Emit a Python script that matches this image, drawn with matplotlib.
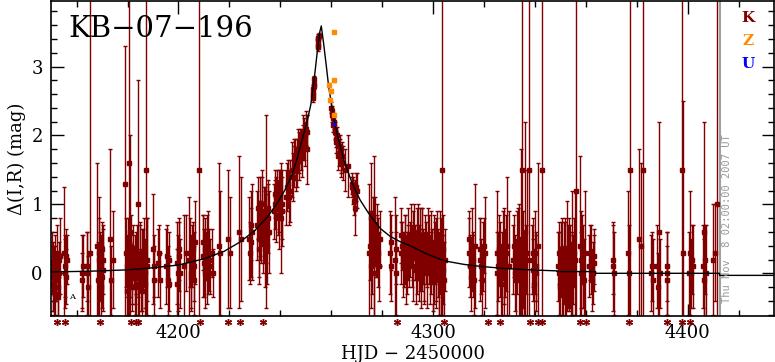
import matplotlib
matplotlib.use('Agg')
import matplotlib.pyplot as plt
import matplotlib.transforms as mtransforms
from matplotlib.ticker import MultipleLocator

# K (dark red) photometry, one line per night: HJD-2450000, delta mag, error
k_hjd = [4150.5, 4150.9, 4151.3, 4151.7, 4152.1, 4152.6, 4153.0, 4153.4,
         4155.0, 4155.6, 4156.0, 4156.4,
         4162.0, 4162.3, 4163.9, 4164.4, 4165.3,
         4168.2, 4168.7, 4169.2, 4169.6, 4170.0, 4170.4,
         4173.3, 4174.2,
         4179.1, 4179.6, 4180.0, 4180.4, 4180.8, 4181.0, 4181.4, 4181.9, 4182.5, 4183.0,
         4183.5, 4184.0, 4184.3, 4184.8, 4185.3, 4185.8, 4186.4, 4186.9, 4187.2, 4187.5,
         4190.0, 4190.4, 4192.0, 4192.6, 4195.3, 4195.9, 4196.4, 4199.3, 4199.8, 4200.4,
         4202.2, 4202.8, 4204.2, 4204.8, 4205.4, 4206.0, 4206.6, 4208.2,
         4209.6, 4210.1, 4210.6, 4211.1, 4211.6, 4212.5, 4213.5, 4216.0, 4216.4,
         4219.3, 4220.3, 4223.8, 4224.6, 4227.7, 4228.3, 4229.0,
         4231.0, 4231.5, 4232.0, 4232.5, 4233.0, 4233.5, 4234.0, 4234.5, 4235.1, 4235.6,
         4237.5, 4238.0, 4238.5, 4239.0, 4239.5, 4240.2, 4240.8, 4242.3, 4243.2, 4243.8,
         4244.5, 4245.2, 4245.8, 4246.5, 4247.2, 4247.8,
         4248.3, 4248.8, 4249.3, 4249.8, 4250.3, 4250.6,
         4252.8, 4252.9, 4253.0, 4253.1, 4253.2, 4254.7, 4254.8, 4254.9, 4255.0, 4255.1,
         4260.0, 4260.3, 4260.6, 4261.0, 4261.5, 4262.0, 4262.5, 4263.0, 4263.5, 4264.0, 4264.5,
         4265.6, 4266.4, 4268.0, 4268.5, 4269.0, 4269.2, 4269.5, 4270.0,
         4275.0, 4275.5, 4276.0, 4276.8, 4277.3, 4277.9, 4278.4, 4279.0,
         4283.0, 4283.6, 4285.0, 4285.5, 4287.3, 4287.9, 4288.5, 4289.1, 4289.7, 4290.3,
         4291.0, 4291.7, 4292.3, 4293.0, 4293.5, 4294.0, 4294.5, 4295.0, 4295.5, 4296.0,
         4296.6, 4297.2, 4297.8, 4298.4, 4299.0, 4299.6, 4300.2, 4300.8, 4301.3, 4301.9,
         4302.5, 4303.1, 4303.6, 4304.1, 4304.7,
         4314.0, 4314.6, 4315.2, 4315.8, 4316.3, 4318.3, 4319.0, 4319.6, 4320.5,
         4325.0, 4325.7, 4326.3, 4327.0, 4327.7, 4328.4, 4329.2, 4330.0,
         4331.5, 4332.2, 4333.0, 4333.8, 4334.6, 4335.4, 4336.2, 4337.0,
         4338.8, 4339.4, 4340.0, 4340.6, 4341.2, 4342.9,
         4349.0, 4349.6, 4350.2, 4350.8, 4351.4, 4352.0, 4352.6, 4353.2, 4353.8, 4354.4, 4355.0, 4355.6, 4356.3,
         4357.7, 4358.3, 4359.0, 4359.6, 4361.3, 4362.0, 4362.8, 4363.4,
         4370.8, 4371.2, 4376.6, 4377.2, 4380.9, 4381.7, 4382.6, 4385.6, 4386.3,
         4388.0, 4388.6, 4389.3, 4391.8, 4392.0, 4397.9, 4398.2, 4400.9,
         4401.4, 4402.0, 4406.0, 4406.6, 4407.3, 4410.0, 4410.6, 4411.7]
k_mag = [0.05, -0.15, 0.10, -0.30, 0.00, -0.20, 0.20, 0.25,
         0.30, 0.10, -0.05, 0.20,
         0.00, -0.10, 0.00, -0.20, 0.30,
         0.40, 0.20, 0.10, 0.15, -0.05, 0.05,
         0.50, 0.20,
         1.30, 0.10, -0.10, 1.60, 0.05, 0.60, 0.20, -0.05, 0.10, -0.20,
         0.15, 0.00, 1.00, 0.25, -0.10, 0.05, 0.30, -0.15, 1.50, 0.10,
         0.35, 0.10, 0.15, -0.10, 0.10, -0.10, 0.20, 0.15, 0.00, 0.25,
         0.10, 0.30, 0.20, 0.00, 0.25, 0.10, 0.45, 1.50,
         0.25, 0.15, 0.35, 0.10, 0.30, 0.10, 0.00, 0.40, 0.30,
         0.50, 0.30, 0.60, 0.50, 0.50, 0.45, 0.60,
         0.70, 0.50, 0.80, 0.60, 0.90, 0.70, 0.50, 0.90, 0.80, 0.60,
         0.90, 1.00, 1.10, 0.95, 1.05, 0.80, 1.00, 1.10, 1.30, 1.20,
         1.50, 1.55, 1.70, 1.60, 1.75, 1.85,
         1.80, 1.90, 1.95, 2.00, 2.05, 1.80,
         2.55, 2.62, 2.68, 2.75, 2.82, 3.28, 3.33, 3.38, 3.42, 3.45,
         2.40, 2.30, 2.25, 2.20, 2.05, 1.95, 1.85, 1.75, 1.80, 1.65, 1.60,
         1.50, 1.55, 1.25, 1.20, 1.15, 0.95, 1.10, 1.20,
         0.30, 0.80, 0.30, 0.50, 0.60, 0.40, 0.30, 0.50,
         0.30, 0.10, 0.20, 0.00, 0.30, 0.40, 0.20, 0.35, 0.15, 0.30,
         0.35, 0.25, 0.40, 0.30, 0.20, 0.45, 0.30, 0.20, 0.35, 0.25,
         0.10, 0.30, 0.20, 0.35, 0.15, 0.25, 0.10, 0.30, 0.20, 0.15,
         0.00, 0.10, 1.50, 0.05, 0.20,
         0.30, 0.10, 0.35, 0.20, 0.40, 0.20, 0.10, 0.25, 0.30,
         0.30, 0.10, 0.20, 0.00, 0.25, 0.15, 0.40, 0.10,
         0.20, 0.00, 0.30, 0.10, 0.50, 0.20, 0.60, 0.30,
         0.20, 0.05, 0.30, 0.10, 0.40, 1.50,
         0.10, 0.00, 0.20, -0.10, 0.15, 0.05, 0.25, 0.00, 0.10, 0.30, 0.05, 0.20, 1.20,
         0.40, 0.20, 0.10, 0.30, 0.10, 0.20, 0.00, 0.15,
         0.10, 0.00, 0.30, 1.50, 0.50, 0.40, 1.50, 0.00, -0.10,
         0.10, 0.60, 0.00, 0.00, -0.10, 1.50, 0.30, 0.30,
         0.00, 0.10, 0.10, 0.60, 0.00, 0.20, 0.30, 1.00]
k_err = [0.35, 0.40, 0.30, 0.35, 0.30, 0.45, 0.25, 0.55,
         0.95, 0.45, 0.40, 0.35,
         0.55, 0.40, 0.60, 0.45, 4.00,
         1.20, 0.90, 0.50, 0.40, 0.45, 0.60,
         1.30, 0.70,
         2.00, 0.45, 0.50, 2.60, 0.40, 1.40, 0.35, 0.40, 0.30, 0.40,
         0.45, 0.35, 1.80, 0.50, 0.45, 0.60, 0.50, 0.55, 3.00, 0.70,
         0.80, 0.45, 0.50, 0.40, 0.55, 0.50, 0.40, 0.60, 0.55, 0.50,
         0.75, 0.55, 0.90, 0.55, 0.45, 0.50, 0.60, 3.50,
         0.60, 0.50, 0.45, 0.55, 0.60, 0.40, 0.35, 1.20, 0.90,
         1.00, 0.80, 1.10, 0.90, 0.60, 0.50, 0.70,
         0.50, 0.55, 0.60, 0.45, 0.50, 0.55, 0.70, 1.40, 0.50, 0.60,
         0.40, 0.35, 0.30, 0.40, 0.45, 0.80, 0.50, 0.40, 0.35, 0.45,
         0.40, 0.30, 0.25, 0.35, 0.30, 0.25,
         0.30, 0.25, 0.30, 0.20, 0.25, 0.50,
         0.06, 0.05, 0.05, 0.05, 0.05, 0.05, 0.05, 0.05, 0.05, 0.04,
         0.08, 0.10, 0.08, 0.10, 0.10, 0.12, 0.15, 0.20, 0.15, 0.20, 0.25,
         0.30, 0.45, 0.15, 0.20, 0.15, 0.40, 0.20, 0.25,
         1.00, 0.80, 0.60, 1.20, 0.50, 0.45, 0.50, 0.40,
         0.60, 0.50, 0.90, 0.60, 0.45, 0.35, 0.40, 0.50, 0.45, 0.40,
         0.40, 0.45, 0.50, 0.40, 0.50, 0.55, 0.40, 0.45, 0.60, 0.40,
         0.50, 0.45, 0.40, 0.50, 0.45, 0.40, 0.55, 0.45, 0.60, 0.50,
         0.60, 0.70, 3.00, 0.50, 0.45,
         0.50, 0.45, 0.60, 0.40, 0.90, 0.60, 0.40, 0.50, 0.80,
         0.90, 0.50, 0.55, 0.60, 0.70, 0.50, 1.00, 0.80,
         0.50, 0.55, 0.60, 0.90, 1.30, 0.70, 1.60, 1.20,
         0.50, 0.45, 0.60, 0.50, 1.20, 3.00,
         0.50, 0.60, 0.55, 0.50, 0.60, 0.70, 0.80, 0.55, 0.60, 0.90, 0.50, 1.00, 3.00,
         1.30, 0.70, 0.60, 0.90, 0.45, 0.50, 0.45, 0.40,
         0.65, 0.60, 0.90, 3.00, 1.30, 1.20, 3.00, 0.55, 0.60,
         0.60, 1.60, 0.50, 0.60, 0.50, 3.20, 2.20, 0.90,
         0.50, 0.60, 0.60, 1.60, 0.70, 0.80, 0.70, 4.00]

# more K points filling the dense nights
kx_hjd = [4150.3, 4150.7, 4151.1, 4151.5, 4151.9, 4152.3, 4152.8, 4153.2, 4155.3, 4155.8,
          4162.5, 4164.1, 4168.5, 4168.9, 4169.4, 4169.8, 4170.2, 4173.7,
          4179.4, 4179.8, 4180.2, 4180.6, 4181.2, 4181.7, 4182.2, 4182.8,
          4183.3, 4183.8, 4184.6, 4185.0, 4185.6, 4186.1, 4186.7, 4187.8,
          4190.2, 4192.3, 4195.6, 4196.1, 4199.5, 4200.1, 4200.6,
          4204.5, 4205.1, 4205.7, 4206.3, 4209.8, 4210.3, 4210.9, 4211.4, 4212.0, 4213.0,
          4228.0, 4228.6, 4231.2, 4231.8, 4232.2, 4232.8, 4233.2, 4233.8, 4234.2, 4234.8, 4235.3,
          4237.8, 4238.3, 4238.8, 4239.3, 4239.8, 4240.5, 4242.6, 4243.5, 4244.8, 4245.5,
          4246.2, 4246.9, 4247.5,
          4248.5, 4249.0, 4249.6, 4250.0, 4252.85, 4253.05, 4254.75, 4254.95, 4260.2, 4260.8,
          4261.3, 4261.8, 4262.3, 4262.8, 4263.3, 4263.8, 4264.3, 4268.3, 4268.8, 4269.8,
          4275.3, 4275.8, 4276.4, 4277.0, 4277.6, 4278.1, 4278.7, 4283.3, 4285.3, 4287.6,
          4288.2, 4288.8, 4289.4, 4290.0, 4290.6,
          4291.3, 4292.0, 4292.6, 4293.3, 4293.8, 4294.3, 4294.8, 4295.3, 4295.8, 4296.3,
          4296.9, 4297.5, 4298.1, 4298.7, 4299.3, 4299.9, 4300.5, 4301.0, 4301.6, 4302.2,
          4302.8, 4303.4, 4303.9, 4304.4,
          4314.3, 4314.9, 4315.5, 4316.0, 4318.6, 4319.3, 4320.0, 4325.3, 4326.0, 4326.7,
          4327.3, 4328.0, 4328.8, 4331.8, 4332.6, 4333.4, 4334.2, 4335.0, 4335.8, 4336.6,
          4337.6, 4339.1, 4339.7, 4340.3,
          4349.3, 4349.9, 4350.5, 4351.1, 4351.7, 4352.3, 4352.9, 4353.5, 4354.1, 4354.7,
          4355.3, 4358.0, 4358.6, 4359.3, 4361.6, 4362.4, 4363.1,
          4370.6, 4376.9, 4386.0, 4388.3, 4391.9, 4400.7, 4401.7, 4406.3, 4407.0]
kx_mag = [0.15, -0.05, -0.25, 0.20, -0.10, 0.30, -0.35, 0.00, 0.00, 0.25,
          0.10, 0.10, -0.10, 0.30, -0.20, 0.35, 0.20, -0.10,
          0.30, -0.25, 0.35, -0.15, 0.40, -0.20, 0.30, 0.05,
          -0.15, 0.30, -0.20, 0.30, -0.25, 0.20, 0.00, 0.20,
          -0.10, 0.30, 0.25, -0.15, -0.15, 0.35, 0.00,
          0.30, -0.05, 0.35, -0.10, 0.45, 0.00, 0.25, 0.45, 0.20, 0.30,
          0.30, 0.70, 0.95, 0.35, 0.65, 1.00, 0.45, 0.85, 0.65, 0.40, 0.95,
          1.15, 0.85, 1.20, 0.80, 1.15, 0.90, 1.25, 1.10, 1.40, 1.65,
          1.50, 1.80, 1.65,
          1.70, 2.05, 1.85, 2.10, 2.58, 2.72, 3.30, 3.40, 2.35, 2.15,
          2.10, 1.90, 2.00, 1.70, 1.85, 1.60, 1.70, 1.30, 1.05, 1.25,
          0.40, 0.10, 0.60, 0.00, 0.35, 0.55, 0.10, 0.45, 0.35, 0.55,
          0.10, 0.45, 0.05, 0.50, 0.20,
          0.55, 0.10, 0.60, 0.05, 0.50, 0.10, 0.55, 0.00, 0.50, 0.05,
          0.45, 0.00, 0.50, 0.05, 0.45, -0.05, 0.40, 0.00, 0.40, -0.10,
          0.30, -0.15, 0.35, -0.10,
          0.50, -0.05, 0.10, -0.10, 0.35, -0.10, 0.40, 0.00, 0.35, -0.15,
          0.40, -0.05, 0.30, 0.40, -0.10, 0.45, -0.10, 1.50, 0.00, 0.20,
          1.50, 0.30, -0.15, 0.00,
          0.30, -0.20, 0.35, -0.15, 0.30, -0.15, 0.10, 0.30, -0.10, 0.00,
          0.30, 0.00, 0.35, -0.10, 0.30, -0.10, 0.25,
          0.20, 0.00, 0.10, -0.20, 0.10, 0.00, 0.20, -0.10, 0.20]
kx_err = [0.45, 0.50, 0.40, 0.35, 0.30, 0.40, 0.35, 0.30, 0.50, 0.40,
          0.45, 0.50, 0.55, 0.50, 0.45, 0.40, 0.50, 0.50,
          0.50, 0.40, 0.45, 0.50, 0.45, 0.35, 0.40, 0.50,
          0.45, 0.40, 0.45, 0.40, 0.50, 0.45, 0.50, 0.60,
          0.50, 0.40, 0.45, 0.40, 0.50, 0.45, 0.50,
          0.50, 0.45, 0.40, 0.50, 0.40, 0.50, 0.35, 0.40, 0.45, 0.35,
          0.45, 0.50, 0.45, 0.50, 0.40, 0.50, 0.45, 0.40, 0.50, 0.55, 0.40,
          0.35, 0.40, 0.30, 0.45, 0.35, 0.50, 0.35, 0.40, 0.35, 0.30,
          0.30, 0.30, 0.30,
          0.30, 0.25, 0.30, 0.25, 0.05, 0.05, 0.05, 0.04, 0.08, 0.10,
          0.10, 0.15, 0.12, 0.20, 0.15, 0.20, 0.20, 0.15, 0.20, 0.20,
          0.50, 0.60, 0.50, 0.70, 0.40, 0.45, 0.50, 0.40, 0.50, 0.40,
          0.45, 0.40, 0.50, 0.45, 0.40,
          0.45, 0.50, 0.40, 0.50, 0.45, 0.50, 0.40, 0.50, 0.45, 0.50,
          0.40, 0.50, 0.45, 0.50, 0.45, 0.50, 0.45, 0.50, 0.50, 0.55,
          0.60, 0.60, 0.50, 0.55,
          0.40, 0.50, 0.45, 0.50, 0.45, 0.50, 0.40, 0.60, 0.50, 0.55,
          0.50, 0.60, 0.55, 0.45, 0.60, 0.50, 0.60, 3.00, 0.60, 0.50,
          3.00, 0.50, 0.50, 0.55,
          0.45, 0.50, 0.45, 0.50, 0.50, 0.55, 0.60, 0.50, 0.55, 0.60,
          0.50, 0.60, 0.50, 0.60, 0.40, 0.45, 0.40,
          0.50, 0.70, 0.50, 0.50, 0.50, 0.60, 0.50, 0.60, 0.50]

# Z (orange) and U (blue) points near the peak
z_hjd = [4260.9, 4260.9, 4259.0, 4260.0, 4259.7, 4260.9]
z_mag = [3.50, 2.80, 2.73, 2.65, 2.52, 2.30]
z_err = [0.02, 0.02, 0.03, 0.03, 0.03, 0.02]
u_hjd = [4260.9]
u_mag = [2.16]

# model light curve
model_hjd = [4150, 4165, 4180, 4190, 4200, 4210, 4218, 4224, 4230, 4235, 4239,
             4242, 4244.5, 4246.5, 4248.5, 4250.5, 4252, 4253.3, 4254.6, 4255.5,
             4256.1, 4257, 4258.1, 4259, 4260.9, 4263, 4265, 4268.2, 4271.4,
             4274.7, 4279.3, 4283, 4287, 4291, 4297, 4303, 4306, 4312, 4318.6,
             4328, 4338, 4348.8, 4348.8, 4363.8, 4363.8, 4412.5, 4412.5, 4434]
model_mag = [0.02, 0.03, 0.05, 0.08, 0.12, 0.21, 0.32, 0.45, 0.62, 0.82, 1.03,
             1.22, 1.42, 1.65, 1.93, 2.20, 2.45, 2.81, 3.24, 3.50,
             3.59, 3.34, 3.00, 2.71, 2.27, 1.92, 1.64, 1.31, 1.06,
             0.87, 0.65, 0.54, 0.46, 0.40, 0.29, 0.20, 0.17, 0.13, 0.10,
             0.07, 0.05, 0.035, 0.025, 0.025, 0.0, 0.0, -0.03, -0.03]

# asterisks below the x axis
star_hjd = [4152.2, 4155.5, 4169.3, 4181.3, 4183.4, 4184.2, 4208.3, 4219.4,
            4224.3, 4233.2, 4285.8, 4304.3, 4321.4, 4326.1, 4337.9, 4341.1,
            4342.8, 4357.6, 4360.1, 4377.1, 4392.0, 4397.8, 4401.1]

date_hjd = 4412.6
red = '#800000'
serif = 'DejaVu Serif'

fig = plt.figure(figsize=(7.75, 3.62), dpi=100)
ax = fig.add_axes([0.066, 0.127, 0.933, 0.870])

all_hjd = k_hjd + kx_hjd
all_mag = k_mag + kx_mag
all_err = k_err + kx_err
ax.errorbar(all_hjd, all_mag, yerr=all_err, fmt='s', ms=2.2, mfc=red, mec=red,
            ecolor=red, elinewidth=1, capsize=1.5, capthick=1, zorder=2)
ax.errorbar(z_hjd, z_mag, yerr=z_err, fmt='s', ms=3, color='#ff8c00',
            elinewidth=1, capsize=1.5, zorder=4)
ax.plot(u_hjd, u_mag, 's', ms=1.5, color='#0000ff', zorder=4)
ax.plot(model_hjd, model_mag, color='black', lw=1, zorder=3)

ax.axvline(date_hjd, color='#a0a0a0', lw=1.5, zorder=1)

trans = mtransforms.blended_transform_factory(ax.transData, ax.transAxes)
ax.plot(star_hjd, [-0.018] * len(star_hjd), ls='none', marker=(6, 2, 0), ms=5,
        mew=1, color=red, transform=trans, clip_on=False)

ax.set_xlim(4150, 4434)
ax.set_ylim(-0.62, 3.95)
ax.xaxis.set_major_locator(MultipleLocator(100))
ax.xaxis.set_minor_locator(MultipleLocator(20))
ax.yaxis.set_major_locator(MultipleLocator(1))
ax.yaxis.set_minor_locator(MultipleLocator(0.2))
ax.tick_params(which='both', direction='in', top=True, right=True, width=1,
               labelsize=13, pad=6)
ax.tick_params(which='major', length=9)
ax.tick_params(which='minor', length=4.5)
for lab in ax.get_xticklabels() + ax.get_yticklabels():
    lab.set_family(serif)
for s in ax.spines.values():
    s.set_linewidth(1.2)

ax.set_xlabel('HJD \u2212 2450000', fontsize=13, family=serif, labelpad=2)
ax.set_ylabel('\u0394(I,R) (mag)', fontsize=13, family=serif, labelpad=4)

ax.text(0.024, 0.955, 'KB\u221207\u2212196', transform=ax.transAxes, fontsize=21,
        family=serif, va='top', ha='left')
ax.text(4158.1, -0.34, 'A', fontsize=6, family=serif, ha='center', va='center')

for txt, col, yy in [('K', red, 0.945), ('Z', '#ff8c00', 0.872), ('U', '#0000ff', 0.80)]:
    ax.text(0.964, yy, txt, color=col, transform=ax.transAxes, fontsize=11,
            family=serif, fontweight='bold', ha='center', va='center')

ax.text(4415.3, -0.43, 'Thu Nov  8 02:00:00 2007 UT', rotation=90, color='#999999',
        fontsize=7.5, family='DejaVu Sans Mono', ha='center', va='bottom')

fig.savefig('out.png', dpi=100)
